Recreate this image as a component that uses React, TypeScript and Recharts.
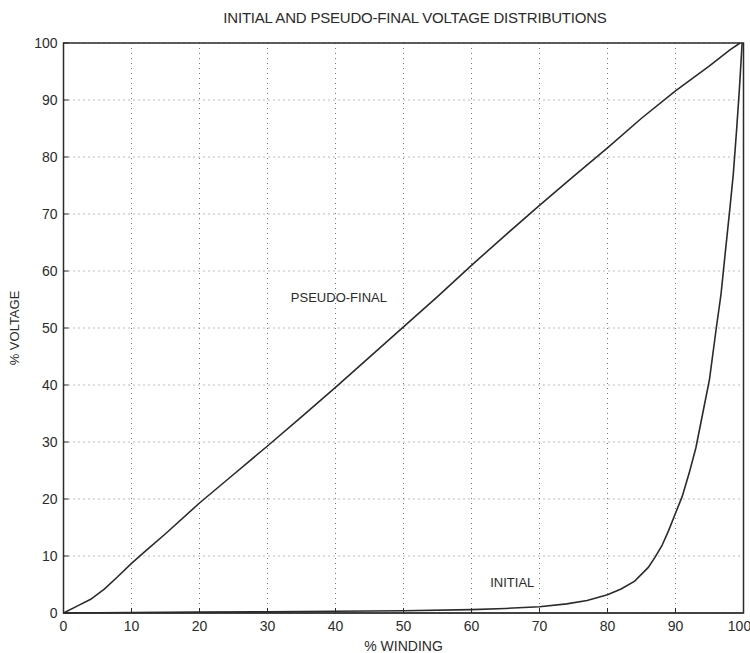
import {
  LineChart, Line, XAxis, YAxis, CartesianGrid, ReferenceArea, ReferenceDot,
} from 'recharts';

// % winding vs % voltage
const pseudoX = [0, 2, 4, 6, 8, 10, 12, 15, 20, 25, 30, 35, 40, 45, 50, 55, 60, 65, 70, 75, 80, 85, 90, 95, 98, 99.5];
const pseudoY = [0, 1.2, 2.4, 4.2, 6.4, 8.7, 10.8, 13.9, 19.3, 24.3, 29.3, 34.4, 39.6, 44.9, 50.2, 55.5, 61, 66.3, 71.5, 76.6, 81.6, 86.8, 91.6, 96, 98.8, 100];

const initialX = [0, 10, 20, 30, 40, 50, 60, 65, 70, 74, 77, 80, 82, 84, 86, 87, 88, 89, 90, 91, 92, 93, 94, 95, 96, 96.7, 97.3, 98, 98.5, 99, 99.4, 99.8];
const initialY = [0, 0.1, 0.15, 0.2, 0.3, 0.4, 0.6, 0.8, 1.1, 1.6, 2.2, 3.2, 4.2, 5.6, 8, 9.8, 11.8, 14.5, 17.5, 20.5, 24.5, 29, 35, 41, 50, 56, 63, 71, 77, 85, 92, 100];

const ticks = [0, 10, 20, 30, 40, 50, 60, 70, 80, 90, 100];

const pseudo  = pseudoX.map((x, i) => ({ x, y: pseudoY[i] }));
const initial = initialX.map((x, i) => ({ x, y: initialY[i] }));

const FONT = "'Liberation Sans Narrow', 'Liberation Sans', Arial, sans-serif";
const INK  = '#2b2b2b';

export default function App() {
  return (
    <div style={{ position: 'absolute', left: 0, top: 0, width: 750, height: 653, background: '#fff', fontFamily: FONT }}>
      <div style={{
        position: 'absolute', top: 9, left: 0, width: 830, textAlign: 'center',
        fontSize: 15, color: INK, letterSpacing: -0.2,
      }}>
        INITIAL AND PSEUDO-FINAL VOLTAGE DISTRIBUTIONS
      </div>
      <LineChart width={750} height={653} margin={{ top: 43, right: 6.5, bottom: 0, left: 0 }}>
        <CartesianGrid stroke="#777" strokeDasharray="1 4" />
        <XAxis
          type="number"
          dataKey="x"
          domain={[0, 100]}
          ticks={ticks}
          height={40}
          tick={{ fill: INK, fontSize: 14, fontFamily: FONT }}
          tickSize={-5}
          tickMargin={13}
          stroke={INK}
          label={{ value: '% WINDING', position: 'insideBottom', offset: 2, fill: INK, fontSize: 14, fontFamily: FONT }}
        />
        <YAxis
          type="number"
          dataKey="y"
          domain={[0, 100]}
          ticks={ticks}
          width={63.5}
          tick={{ fill: INK, fontSize: 14, fontFamily: FONT }}
          tickSize={-5}
          tickMargin={11}
          stroke={INK}
          label={{ value: '% VOLTAGE', angle: -90, position: 'insideLeft', offset: 14, textAnchor: 'middle', fill: INK, fontSize: 13, fontFamily: FONT }}
        />
        <ReferenceArea x1={0} x2={100} y1={0} y2={100} fill="none" stroke={INK} strokeWidth={1.5} />
        <Line data={pseudo} dataKey="y" type="linear" stroke={INK} strokeWidth={1.6} dot={false} isAnimationActive={false} />
        <Line data={initial} dataKey="y" type="linear" stroke={INK} strokeWidth={1.6} dot={false} isAnimationActive={false} />
        <ReferenceDot x={40.5} y={55.4} r={0} label={{ value: 'PSEUDO-FINAL', position: 'center', fill: INK, fontSize: 13, fontFamily: FONT }} />
        <ReferenceDot x={66} y={5.4} r={0} label={{ value: 'INITIAL', position: 'center', fill: INK, fontSize: 13, fontFamily: FONT }} />
      </LineChart>
    </div>
  );
}
